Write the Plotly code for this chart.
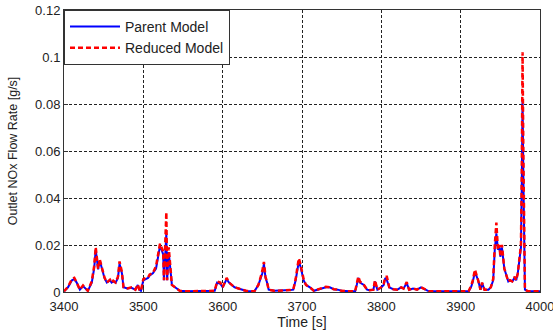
import plotly.graph_objects as go

time = [3400, 3405, 3410, 3413, 3416, 3420, 3424, 3427, 3430, 3435, 3438, 3440, 3443, 3445, 3448, 3451, 3454, 3458, 3460, 3462, 3465, 3468, 3470, 3473, 3475, 3480, 3485, 3490, 3493, 3495, 3497, 3500, 3503, 3506, 3508, 3512, 3516, 3519, 3521, 3523, 3525, 3526, 3527, 3529, 3530, 3532, 3534, 3536, 3540, 3546, 3555, 3570, 3585, 3590, 3593, 3597, 3600, 3603, 3605, 3608, 3611, 3615, 3620, 3625, 3630, 3640, 3645, 3648, 3650, 3652, 3654, 3656, 3658, 3665, 3675, 3685, 3689, 3692, 3694, 3696, 3698, 3700, 3702, 3705, 3710, 3715, 3720, 3725, 3730, 3735, 3740, 3745, 3750, 3760, 3767, 3769, 3771, 3773, 3775, 3778, 3782, 3785, 3790, 3792, 3795, 3800, 3803, 3805, 3807, 3810, 3815, 3820, 3825, 3828, 3832, 3835, 3840, 3845, 3850, 3855, 3860, 3880, 3900, 3910, 3913, 3915, 3918, 3920, 3922, 3925, 3927, 3930, 3935, 3938, 3941, 3943, 3945, 3947, 3949, 3950, 3952, 3955, 3958, 3960, 3962, 3965, 3968, 3970, 3972, 3974, 3976, 3977, 3978, 3979, 3980, 3981, 3985, 4000]

parent = [0.0003, 0.002, 0.005, 0.0055, 0.004, 0.001, 0.0025, 0.0015, 0.0005, 0.004, 0.01, 0.018, 0.0096, 0.0135, 0.01, 0.006, 0.004, 0.005, 0.004, 0.0045, 0.004, 0.006, 0.012, 0.008, 0.002, 0.0015, 0.0018, 0.001, 0.003, 0.001, 0.0005, 0.005, 0.0055, 0.006, 0.007, 0.008, 0.01, 0.017, 0.0195, 0.018, 0.016, 0.005, 0.012, 0.025, 0.005, 0.017, 0.01, 0.003, 0.002, 0.0005, 0.0003, 0.0003, 0.0003, 0.0005, 0.004, 0.0035, 0.002, 0.0045, 0.0055, 0.004, 0.003, 0.002, 0.0015, 0.001, 0.0004, 0.0003, 0.003, 0.006, 0.008, 0.012, 0.006, 0.004, 0.001, 0.0005, 0.0005, 0.0008, 0.001, 0.005, 0.009, 0.013, 0.011, 0.008, 0.005, 0.003, 0.002, 0.0005, 0.001, 0.0015, 0.002, 0.002, 0.0012, 0.001, 0.0005, 0.0003, 0.0003, 0.003, 0.006, 0.004, 0.0035, 0.003, 0.001, 0.0008, 0.001, 0.0045, 0.001, 0.002, 0.003, 0.006, 0.005, 0.002, 0.0012, 0.001, 0.002, 0.0015, 0.0038, 0.001, 0.0015, 0.001, 0.002, 0.001, 0.0003, 0.0003, 0.0003, 0.0003, 0.002, 0.004, 0.0085, 0.007, 0.005, 0.001, 0.0038, 0.001, 0.001, 0.002, 0.005, 0.018, 0.025, 0.018, 0.019, 0.015, 0.019, 0.01, 0.006, 0.0045, 0.005, 0.0045, 0.006, 0.005, 0.008, 0.014, 0.019, 0.045, 0.082, 0.05, 0.02, 0.001, 0.0003, 0.0003]

reduced = [0.0003, 0.0022, 0.0055, 0.006, 0.004, 0.001, 0.0028, 0.0015, 0.0005, 0.0045, 0.011, 0.019, 0.0098, 0.014, 0.01, 0.0062, 0.004, 0.0052, 0.004, 0.0048, 0.004, 0.0065, 0.013, 0.0085, 0.002, 0.0015, 0.002, 0.001, 0.0032, 0.001, 0.0005, 0.0055, 0.006, 0.0062, 0.0075, 0.008, 0.011, 0.018, 0.0205, 0.019, 0.017, 0.005, 0.014, 0.034, 0.005, 0.019, 0.011, 0.003, 0.002, 0.0005, 0.0003, 0.0003, 0.0003, 0.0005, 0.0045, 0.004, 0.002, 0.005, 0.006, 0.004, 0.0032, 0.002, 0.0015, 0.001, 0.0004, 0.0003, 0.003, 0.0065, 0.009, 0.0128, 0.0065, 0.004, 0.001, 0.0005, 0.0005, 0.0008, 0.001, 0.0055, 0.01, 0.0143, 0.012, 0.0085, 0.0055, 0.003, 0.002, 0.0005, 0.001, 0.0015, 0.0022, 0.002, 0.0012, 0.001, 0.0005, 0.0003, 0.0003, 0.0035, 0.0065, 0.0045, 0.004, 0.003, 0.001, 0.0008, 0.001, 0.005, 0.001, 0.002, 0.0035, 0.0065, 0.0065, 0.002, 0.0012, 0.001, 0.002, 0.0015, 0.0042, 0.001, 0.0015, 0.001, 0.002, 0.001, 0.0003, 0.0003, 0.0003, 0.0003, 0.0025, 0.0045, 0.0095, 0.0075, 0.005, 0.001, 0.004, 0.001, 0.001, 0.002, 0.0055, 0.02, 0.0295, 0.018, 0.02, 0.015, 0.02, 0.01, 0.006, 0.0045, 0.005, 0.0045, 0.0065, 0.005, 0.008, 0.015, 0.02, 0.05, 0.102, 0.06, 0.025, 0.001, 0.0003, 0.0003]

x_ticks = [3400, 3500, 3600, 3700, 3800, 3900, 4000]
y_ticks = [0, 0.02, 0.04, 0.06, 0.08, 0.1, 0.12]
y_labels = ["0", "0.02", "0.04", "0.06", "0.08", "0.1", "0.12"]

fig = go.Figure()
fig.add_trace(go.Scatter(x=time, y=parent, mode="lines", name="Parent Model",
                         line=dict(color="#0000ff", width=2)))
fig.add_trace(go.Scatter(x=time, y=reduced, mode="lines", name="Reduced Model",
                         line=dict(color="#ff0000", width=2.5, dash="5px,3px")))

fam = "Liberation Sans, Arial, sans-serif"
fig.update_layout(
    width=553, height=335,
    margin=dict(l=64, r=13, t=10, b=43),
    paper_bgcolor="white", plot_bgcolor="white",
    font=dict(family=fam, size=13, color="#222"),
    showlegend=True,
    legend=dict(x=0, y=1, xanchor="left", yanchor="top",
                bgcolor="white", bordercolor="#333", borderwidth=1,
                font=dict(family=fam, size=14, color="#222"),
                tracegroupgap=0, itemwidth=50),
)
grid = dict(showline=True, linecolor="#333", linewidth=1, mirror=True,
            showgrid=True, gridcolor="#222", gridwidth=1, griddash="3px,2px",
            zeroline=False, ticks="inside", ticklen=4, tickcolor="#333",
            automargin=False)
fig.update_xaxes(range=[3400, 4000], tickvals=x_ticks, ticklabeloverflow="allow",
                 ticklabelstandoff=2,
                 title=dict(text="Time [s]", standoff=3, font=dict(size=14)), **grid)
fig.update_yaxes(range=[0, 0.12], tickvals=y_ticks, ticktext=y_labels,
                 title=dict(text="Outlet NOx Flow Rate [g/s]", standoff=14, font=dict(size=12.5)), **grid)

fig.write_html("out.html")
